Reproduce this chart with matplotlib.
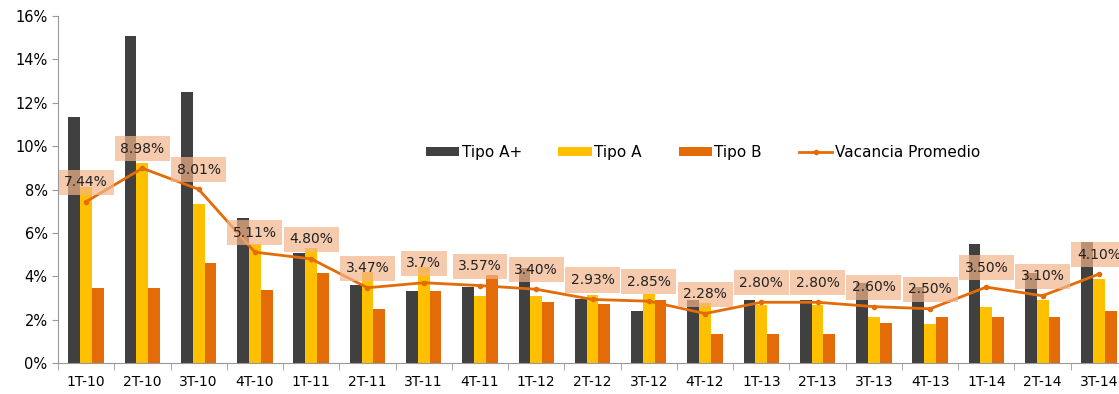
import numpy as np
import matplotlib.pyplot as plt

# Trimestres
categorias = ["1T-10", "2T-10", "3T-10", "4T-10", "1T-11", "2T-11", "3T-11", "4T-11",
              "1T-12", "2T-12", "3T-12", "4T-12", "1T-13", "2T-13", "3T-13", "4T-13",
              "1T-14", "2T-14", "3T-14"]

# Vacancia por tipo (%)
tipo_a_plus = [11.35, 15.1, 12.5, 6.67, 5.07, 3.6, 3.33, 3.52, 4.36, 2.95, 2.41, 2.9,
               2.9, 2.9, 3.7, 3.49, 5.51, 4.13, 5.56]
tipo_a = [8.1, 9.2, 7.35, 5.5, 5.3, 4.2, 4.44, 3.09, 3.09, 3.13, 3.2, 2.75,
          2.67, 2.67, 2.1, 1.8, 2.6, 2.9, 3.87]
tipo_b = [3.45, 3.45, 4.6, 3.36, 4.13, 2.48, 3.33, 4.05, 2.8, 2.72, 2.9, 1.34,
          1.32, 1.32, 1.86, 2.1, 2.1, 2.1, 2.41]
promedio = [7.44, 8.98, 8.01, 5.11, 4.80, 3.47, 3.7, 3.57, 3.40, 2.93, 2.85, 2.28,
            2.80, 2.80, 2.60, 2.50, 3.50, 3.10, 4.10]
etiquetas = ["7.44%", "8.98%", "8.01%", "5.11%", "4.80%", "3.47%", "3.7%", "3.57%",
             "3.40%", "2.93%", "2.85%", "2.28%", "2.80%", "2.80%", "2.60%", "2.50%",
             "3.50%", "3.10%", "4.10%"]

fig = plt.figure(figsize=(11.19, 3.94), dpi=100)
ax = fig.add_axes([58 / 1119, 31 / 394, 1069 / 1119, 347 / 394])

x = np.arange(len(categorias))
w = 0.21
b1 = ax.bar(x - w, tipo_a_plus, w, color="#404040", label="Tipo A+")
b2 = ax.bar(x, tipo_a, w, color="#FFC000", label="Tipo A")
b3 = ax.bar(x + w, tipo_b, w, color="#E36C09", label="Tipo B")
ln, = ax.plot(x, promedio, color="#E36C09", lw=2, marker="o", ms=3, label="Vacancia Promedio")

# etiquetas del promedio
for xi, yi, t in zip(x, promedio, etiquetas):
    ax.annotate(t, (xi, yi), xytext=(0, 14), textcoords="offset points",
                ha="center", va="center", fontsize=10, color="#222222",
                bbox=dict(boxstyle="square,pad=0.4", fc="#F2B48A", ec="none", alpha=0.7))

ax.set_xlim(-0.5, len(categorias) - 0.5)
ax.set_ylim(0, 16)
ax.set_yticks(np.arange(0, 17, 2))
ax.set_yticklabels([f"{v}%" for v in range(0, 17, 2)], fontsize=10.5)
ax.set_xticks(x)
ax.set_xticklabels(categorias, fontsize=10)
ax.tick_params(axis="x", length=0, pad=9)
ax.set_xticks(np.arange(-0.5, len(categorias), 1), minor=True)
ax.tick_params(axis="x", which="minor", length=5, color="#999999")
ax.tick_params(axis="y", length=4, color="#999999")

for s in ["top", "right"]:
    ax.spines[s].set_visible(False)
for s in ["left", "bottom"]:
    ax.spines[s].set_color("#999999")

ax.legend([b1, b2, b3, ln], ["Tipo A+", "Tipo A", "Tipo B", "Vacancia Promedio"],
          loc="center", bbox_to_anchor=(0.628, 0.614), bbox_transform=fig.transFigure,
          ncol=4, frameon=False, fontsize=11, handlelength=2.2, handleheight=0.5,
          handletextpad=0.15, columnspacing=2.4)

fig.savefig("out.png", dpi=100)
